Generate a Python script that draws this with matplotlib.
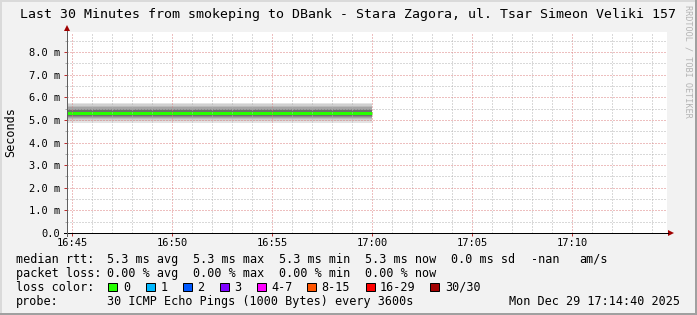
import matplotlib
matplotlib.use("Agg")
import matplotlib.pyplot as plt
import matplotlib.dates as mdates
from matplotlib.ticker import MultipleLocator, FixedLocator
from matplotlib.patches import Rectangle, Polygon
from matplotlib.lines import Line2D
import pandas as pd

# ---------------- data ----------------
title = "Last 30 Minutes from smokeping to DBank - Stara Zagora, ul. Tsar Simeon Veliki 157"
sample_times = pd.to_datetime(["2025-12-29 16:00:00", "2025-12-29 17:00:00"])
median_rtt = [5.3e-3, 5.3e-3]
# sorted-ping smoke envelopes (outermost first), seconds
smoke_lower = [4.87e-3, 4.95e-3, 5.03e-3, 5.09e-3, 5.14e-3, 5.19e-3]
smoke_upper = [5.76e-3, 5.68e-3, 5.61e-3, 5.55e-3, 5.48e-3, 5.42e-3]
view_start = pd.Timestamp("2025-12-29 16:44:44")
view_end = pd.Timestamp("2025-12-29 17:14:44")
y_ticks = [0, 1e-3, 2e-3, 3e-3, 4e-3, 5e-3, 6e-3, 7e-3, 8e-3]
y_tick_labels = ["0.0", "1.0 m", "2.0 m", "3.0 m", "4.0 m", "5.0 m", "6.0 m", "7.0 m", "8.0 m"]
y_max = 8.884e-3

stats_rtt = {"avg": 5.3, "max": 5.3, "min": 5.3, "now": 5.3, "sd": 0.0}
stats_loss = {"avg": 0.00, "max": 0.00, "min": 0.00, "now": 0.00}
loss_labels = ["0", "1", "2", "3", "4-7", "8-15", "16-29", "30/30"]
loss_colors = ["#26ff00", "#00b8ff", "#0059ff", "#7e00ff", "#ff00ff", "#ff5500", "#ff0000", "#a10000"]
probe_text = "30 ICMP Echo Pings (1000 Bytes) every 3600s"
date_text = "Mon Dec 29 17:14:40 2025"

# ---------------- style ----------------
W, H, DPI = 697, 315, 100
BG = "#f2f2f2"
MONO = "DejaVu Sans Mono"
smoke_colors = ["#e4e4e4", "#d0d0d0", "#bcbcbc", "#a4a4a4", "#8a8a8a", "#6f6f6f"]
PX = 72.0 / DPI  # one pixel in points

fig = plt.figure(figsize=(W / DPI, H / DPI), dpi=DPI, facecolor=BG)

def fpos(x0, y0, x1, y1):
    return [x0 / W, 1 - y1 / H, (x1 - x0) / W, (y1 - y0) / H]

ax = fig.add_axes(fpos(67, 32, 667, 233))
ax.set_facecolor("white")

for lo, hi, c in zip(smoke_lower, smoke_upper, smoke_colors):
    ax.fill_between(sample_times, [lo, lo], [hi, hi], color=c, lw=0, zorder=1)
ax.plot(sample_times, median_rtt, color="#26ff00", lw=3 * PX, solid_capstyle="butt", zorder=2)

ax.set_xlim(view_start, view_end)
ax.set_ylim(0, y_max)
ax.xaxis.set_major_locator(mdates.MinuteLocator(byminute=range(0, 60, 5)))
ax.xaxis.set_minor_locator(mdates.MinuteLocator())
ax.xaxis.set_major_formatter(mdates.DateFormatter("%H:%M"))
ax.yaxis.set_major_locator(FixedLocator(y_ticks))
ax.set_yticklabels(y_tick_labels)
ax.yaxis.set_minor_locator(MultipleLocator(0.5e-3))

ax.set_axisbelow(False)
dot = (0, (1, 2))
ax.grid(which="major", color="#dd8080", lw=PX, ls=dot)
ax.grid(which="minor", color="#b4b4b4", lw=PX, ls=dot)
for s in ax.spines.values():
    s.set_visible(False)

ax.tick_params(axis="x", which="major", length=3 * PX, width=PX, color="#c03030",
               pad=1.6, labelsize=7.5)
ax.tick_params(axis="x", which="minor", length=0)
ax.tick_params(axis="y", which="major", length=3 * PX, width=PX, color="#c03030",
               pad=2.9, labelsize=7.5)
ax.tick_params(axis="y", which="minor", length=2 * PX, width=PX, color="#aaaaaa")
for lab in ax.get_xticklabels() + ax.get_yticklabels():
    lab.set_family(MONO)

# ---------------- overlay (pixel coordinates) ----------------
ov = fig.add_axes([0, 0, 1, 1])
ov.set_xlim(0, W)
ov.set_ylim(H, 0)
ov.axis("off")
ov.patch.set_alpha(0)

# border shading
ov.add_patch(Rectangle((0, 0), W, 2, color="#dadada", lw=0))
ov.add_patch(Rectangle((0, 0), 2, H, color="#dadada", lw=0))
ov.add_patch(Rectangle((W - 2.5, 0), 2.5, H, color="#a0a0a0", lw=0))
ov.add_patch(Rectangle((0, H - 2.5), W, 2.5, color="#a0a0a0", lw=0))

# axis lines and arrows
ov.add_line(Line2D([64, 668], [233, 233], color="black", lw=PX))
ov.add_line(Line2D([67, 67], [236, 31], color="#606060", lw=PX))
ov.add_patch(Polygon([[668, 230], [668, 236], [674, 233]], closed=True, color="#a00000", lw=0))
ov.add_patch(Polygon([[64, 31], [70, 31], [67, 25]], closed=True, color="#a00000", lw=0))

# title, y label, watermark
ov.text(348.5, 18, title, family=MONO, fontsize=9.5, ha="center", va="baseline")
ov.text(10.5, 132, "Seconds", family=MONO, fontsize=8.5, rotation=90, ha="center", va="center")
ov.text(688, 5, "RRDTOOL / TOBI OETIKER", family=MONO, fontsize=6.1, rotation=270,
        ha="center", va="top", color="#b4b4b4")

# legend
LFS = 8.5
cols = [107, 193, 279, 365]
rows = [263, 277, 291, 305]
ov.text(16, rows[0], "median rtt:", family=MONO, fontsize=LFS, va="baseline")
for x, k in zip(cols, ["avg", "max", "min", "now"]):
    ov.text(x, rows[0], f"{stats_rtt[k]:.1f} ms {k}", family=MONO, fontsize=LFS, va="baseline")
ov.text(451, rows[0], f"{stats_rtt['sd']:.1f} ms sd", family=MONO, fontsize=LFS, va="baseline")
ov.text(531, rows[0], "-nan", family=MONO, fontsize=LFS, va="baseline")
ov.text(579, rows[0], "am/s", family=MONO, fontsize=LFS, va="baseline")

ov.text(16, rows[1], "packet loss:", family=MONO, fontsize=LFS, va="baseline")
for x, k in zip(cols, ["avg", "max", "min", "now"]):
    ov.text(x, rows[1], f"{stats_loss[k]:.2f} % {k}", family=MONO, fontsize=LFS, va="baseline")

ov.text(16, rows[2], "loss color:", family=MONO, fontsize=LFS, va="baseline")
box_x = [108, 146, 183, 220, 257, 307, 366, 430]
lab_x = [123, 160.5, 197.5, 234.5, 271, 321.5, 380, 445]
for bx, lx, lab, c in zip(box_x, lab_x, loss_labels, loss_colors):
    ov.add_patch(Rectangle((bx, 282.5), 8.5, 8.5, facecolor=c, edgecolor="black", lw=PX))
    ov.text(lx, rows[2], lab, family=MONO, fontsize=LFS, va="baseline")

ov.text(16, rows[3], "probe:", family=MONO, fontsize=LFS, va="baseline")
ov.text(107, rows[3], probe_text, family=MONO, fontsize=LFS, va="baseline")
ov.text(680, rows[3], date_text, family=MONO, fontsize=LFS, va="baseline", ha="right")

fig.savefig("out.png", dpi=DPI, facecolor=BG)
